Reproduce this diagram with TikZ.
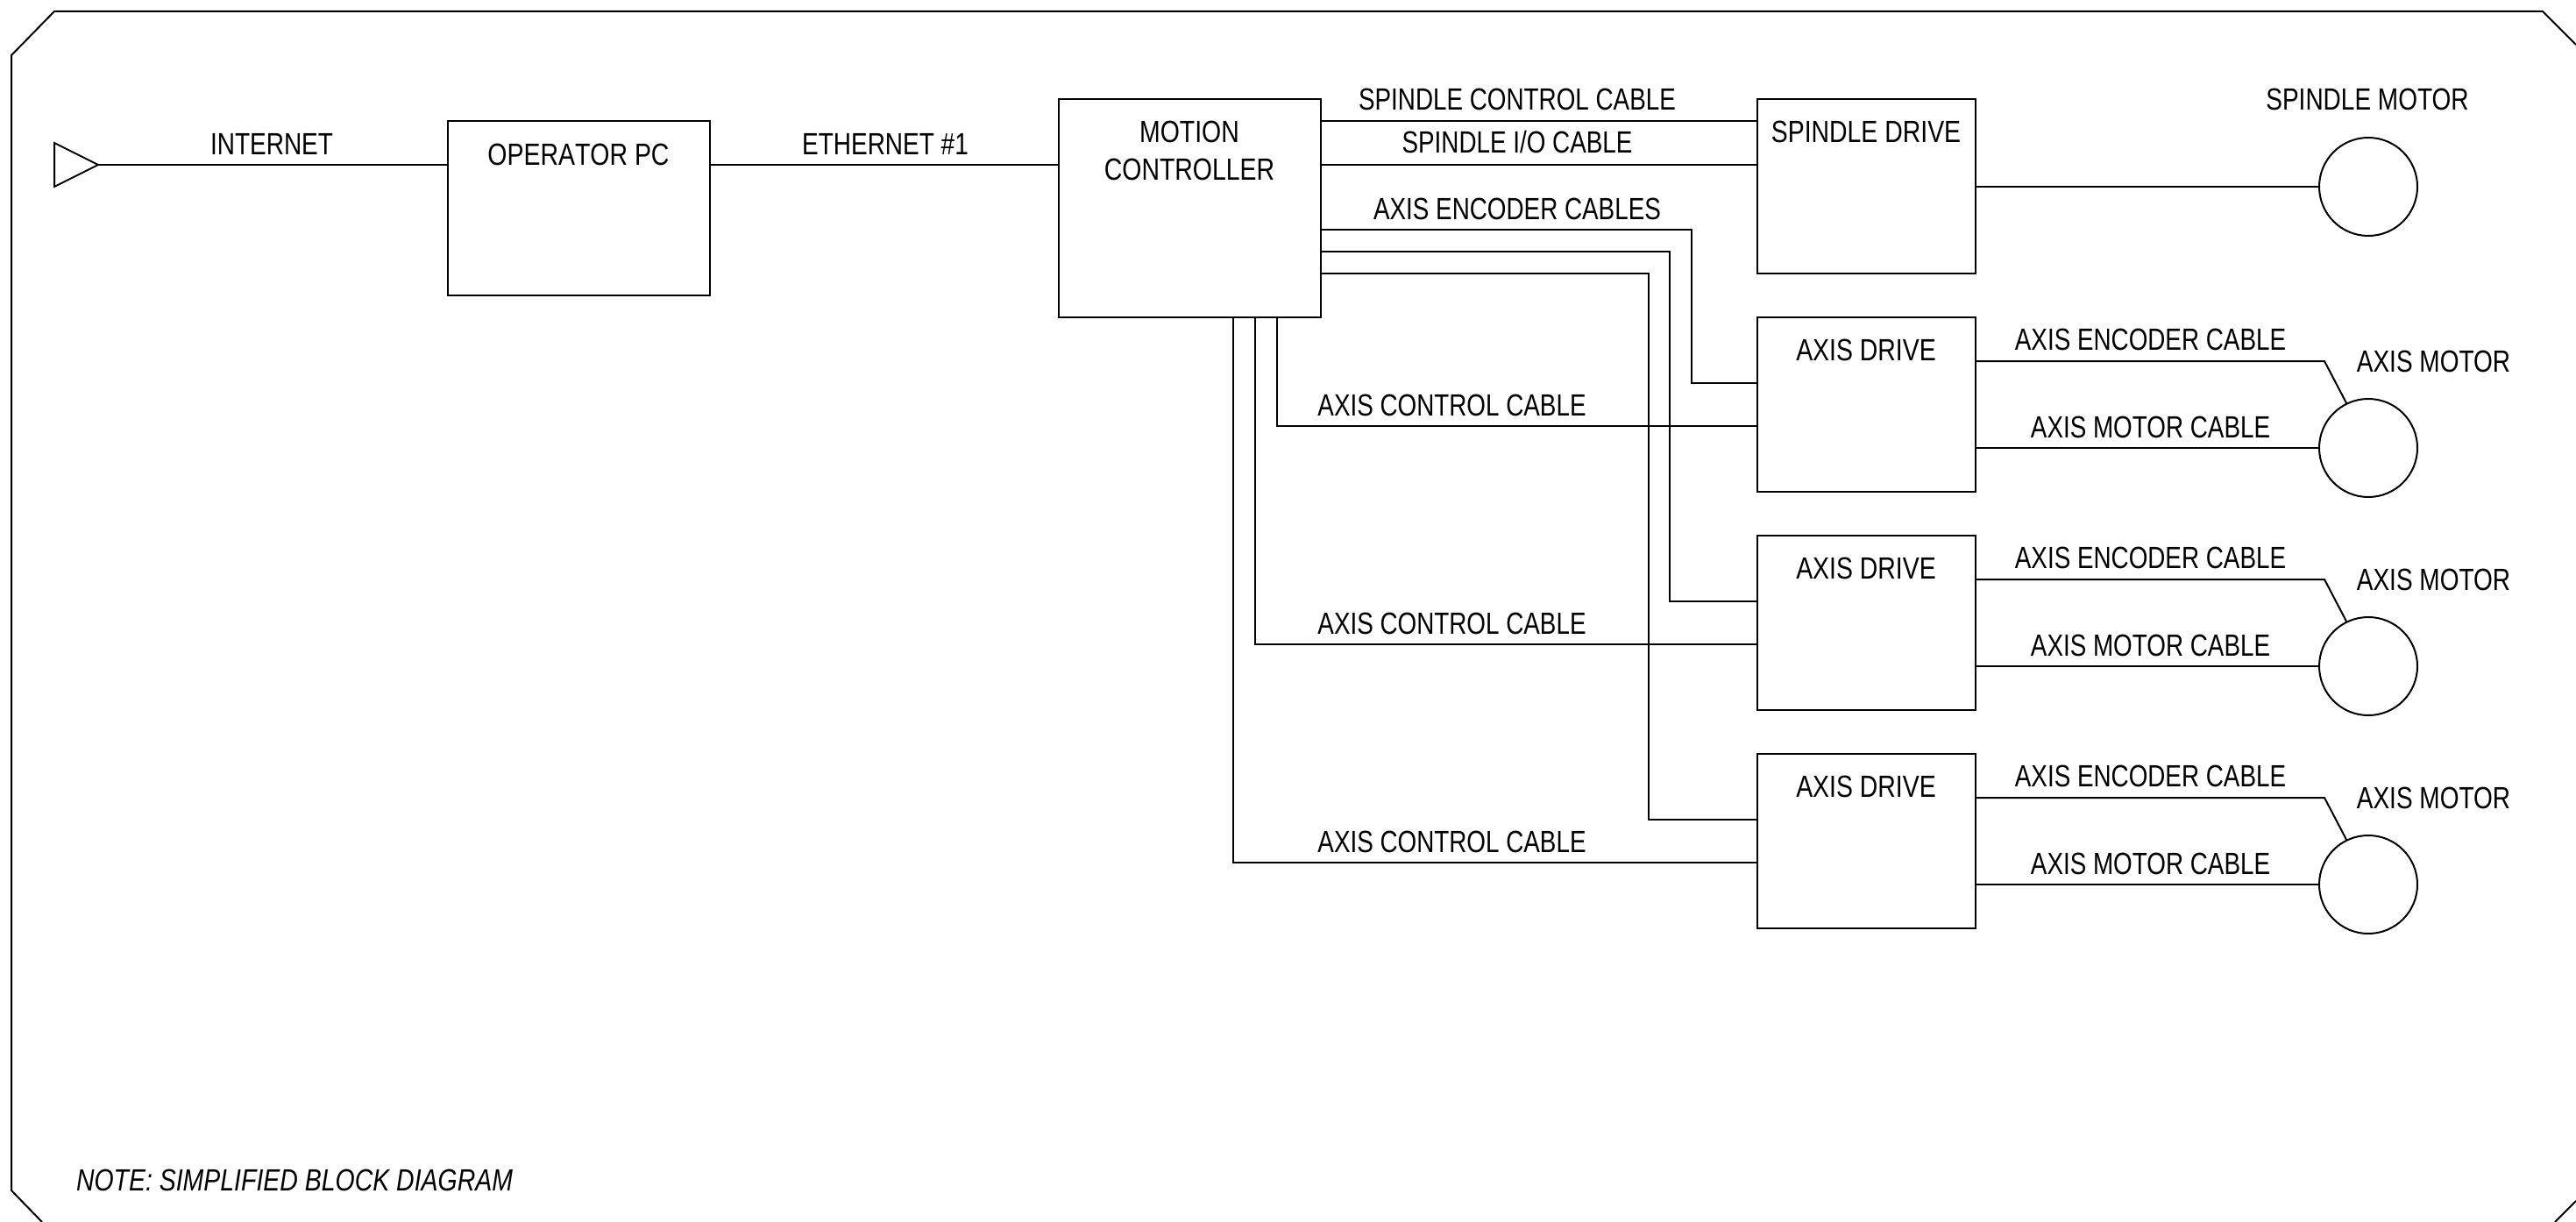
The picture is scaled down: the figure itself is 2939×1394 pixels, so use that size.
\documentclass[tikz,border=0pt]{standalone}
\usepackage{fontspec}
\setmainfont[FakeStretch=0.8]{Liberation Sans}
\newfontfamily\cablefont[FakeStretch=0.795]{Liberation Sans}
\newfontfamily\blockfont[FakeStretch=0.812]{Liberation Sans}
\newfontfamily\notefont[FakeStretch=0.813]{Liberation Sans}
\tikzset{
  wire/.style={line width=2pt,line join=miter},
  blockbox/.style={draw,line width=2pt,rectangle,anchor=north west,inner sep=0pt,outer sep=0pt},
  motorc/.style={draw,line width=2pt,circle,minimum size=112pt,inner sep=0pt,outer sep=0pt},
  lbl/.style={anchor=base,inner sep=0pt,outer sep=0pt,font=\fontsize{35}{42}\selectfont},
  cbl/.style={lbl,font=\fontsize{35}{42}\selectfont\cablefont},
  blk/.style={lbl,font=\fontsize{35}{42}\selectfont\blockfont}
}
\begin{document}
\begin{tikzpicture}[x=1pt,y=-1pt]
\useasboundingbox (0,0) rectangle (2939,1394);
% outer frame, cut by the page
\coordinate (f1) at (2939,51);
\coordinate (f2) at (2901,13);
\coordinate (f3) at (62,13);
\coordinate (f4) at (13,63);
\coordinate (f5) at (13,1358);
\coordinate (f6) at (48,1394);
\coordinate (f7) at (2939,1370);
\coordinate (f8) at (2915,1394);
\draw[wire] (f1) -- (f2) -- (f3) -- (f4) -- (f5) -- (f6);
\draw[wire] (f7) -- (f8);
% source triangle
\coordinate (tt) at (62,163);
\coordinate (tb) at (62,213);
\coordinate (src) at (112,188);
\draw[wire] (tt) -- (src) -- (tb) -- cycle;
% blocks
\node[blockbox,minimum width=299pt,minimum height=199pt] (pc) at (511,138) {};
\node[blockbox,minimum width=299pt,minimum height=249pt] (mc) at (1208,113) {};
\node[blockbox,minimum width=249pt,minimum height=199pt] (sd) at (2005,113) {};
\node[motorc] (sm) at (2702,213) {};
% top connectors
\draw[wire] (src) -- (pc.west |- src);
\draw[wire] (pc.east |- src) -- (mc.west |- src);
\draw[wire] (mc.east |- 0,138) -- (sd.west |- 0,138);
\draw[wire] (mc.east |- 0,188) -- (sd.west |- 0,188);
\draw[wire] (sd.east |- sm.west) -- (sm.west);
% top labels
\node[lbl] (linet) at (310,176) {INTERNET};
\node[blk,font=\fontsize{35}{42}\selectfont\notefont\addfontfeature{Kerning=Off}] (lpc) at (660,188) {OPERATOR PC};
\node[lbl] (leth) at (1010,176) {ETHERNET \#1};
\node[blk] (lmc1) at (1357,163) {MOTION};
\node[blk] (lmc2) at (1357,205.5) {CONTROLLER};
\node[cbl] (lsc) at (1731,126) {SPINDLE CONTROL CABLE};
\node[cbl] (lsio) at (1731,175) {SPINDLE I/O CABLE};
\node[cbl] (laec) at (1731,250) {AXIS ENCODER CABLES};
\node[blk] (lsd) at (2129,163) {SPINDLE DRIVE};
\node[lbl] (lsm) at (2701,126) {SPINDLE MOTOR};
\node[lbl,anchor=base west,font=\fontsize{35}{42}\selectfont\notefont\itshape\addfontfeature{Kerning=Off}] (lnote) at (87,1358) {NOTE: SIMPLIFIED BLOCK DIAGRAM};
% axis rows
\foreach \i/\dy/\ey/\ex/\cx in {1/0/262/1930/1457, 2/249/287/1905/1432, 3/498/312/1881/1407}{
  \node[blockbox,minimum width=249pt,minimum height=199pt] (ad\i) at (2005,362+\dy) {};
  \node[motorc] (am\i) at (2702,511+\dy) {};
  % encoder cable from the controller
  \draw[wire] (mc.east |- 0,\ey) -| (\ex,437+\dy) -- (ad\i.west |- 0,437+\dy);
  % control cable from the controller
  \draw[wire] (\cx,362) |- (ad\i.west |- 0,486+\dy);
  % drive to motor
  \draw[wire] (ad\i.east |- am\i.west) -- (am\i.west);
  \draw[wire] (ad\i.east |- 0,412+\dy) -- (2652,412+\dy) -- (am\i.116);
  \node[blk] (lad\i) at (2129,411.5+\dy) {AXIS DRIVE};
  \node[cbl] (lacc\i) at (1656.5,474+\dy) {AXIS CONTROL CABLE};
  \node[cbl] (lec\i) at (2453.5,399+\dy) {AXIS ENCODER CABLE};
  \node[cbl] (lmcb\i) at (2453.5,499+\dy) {AXIS MOTOR CABLE};
  \node[lbl] (lam\i) at (2776.5,424+\dy) {AXIS MOTOR};
}
\end{tikzpicture}
\end{document}
